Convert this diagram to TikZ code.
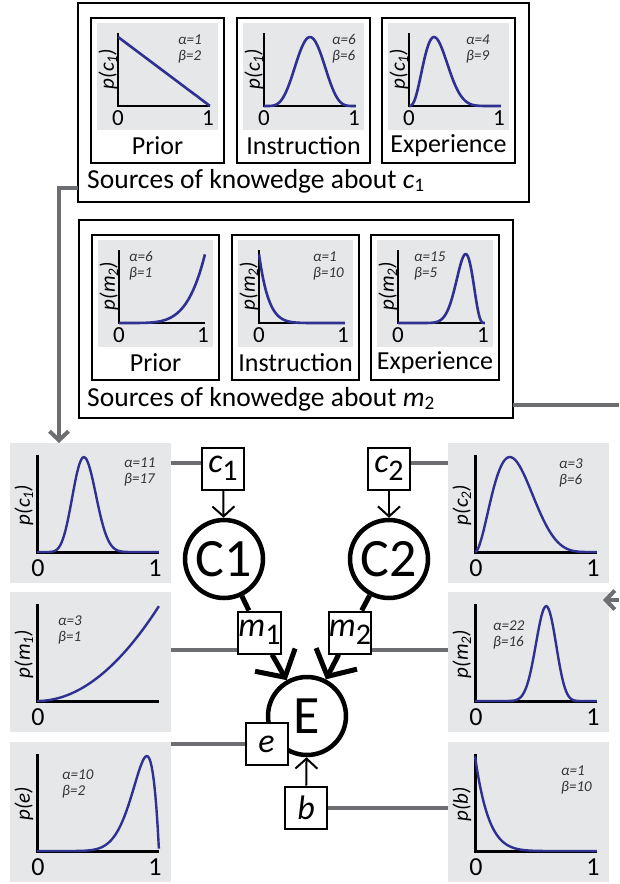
\documentclass[tikz,border=0pt]{standalone}
\usepackage{fontspec}
\setmainfont{Carlito}
\usetikzlibrary{arrows.meta}
\definecolor{panelgray}{HTML}{E6E7E8}
\definecolor{curveblue}{HTML}{2E3192}
\definecolor{feedgray}{HTML}{6D6E71}
\newcommand{\setfs}[1]{\fontsize{#1}{#1}\selectfont}

\tikzset{
  plotbg/.style={fill=panelgray, inner sep=0pt, outer sep=0pt},
  framebox/.style={draw, line width=2pt, inner sep=0pt, outer sep=0pt},
  panelbox/.style={draw, fill=white, line width=2.5pt},
  plotaxis/.style={line width=2.5pt},
  betaline/.style={draw=curveblue},
  ticklab/.style={inner sep=0pt},
  ylab/.style={inner sep=0pt, font=\itshape\setfs{21}},
  ablab/.style={inner sep=0pt, anchor=west, align=left, text=black!80, font=\itshape\fontsize{15}{16}\selectfont},
  titlelab/.style={inner sep=0pt, font=\setfs{26}},
  caplab/.style={inner sep=0pt, anchor=base west, font=\setfs{27.5}},
  obsbox/.style={draw, fill=white, line width=2pt, minimum size=42pt, inner sep=0pt, font=\setfs{34}},
  latent/.style={circle, draw, line width=4.5pt, minimum size=78pt, inner sep=0pt, font=\setfs{54}},
  feed/.style={draw=feedgray, line width=4pt},
  feedarrow/.style={feed, -{Straight Barb[length=9pt, width=19pt]}},
  thinarrow/.style={line width=2pt, -{Straight Barb[length=10pt, width=22pt]}},
  thickline/.style={line width=5pt},
  thickarrow/.style={line width=5pt, -{Straight Barb[length=20pt, width=46pt]}},
}

% beta density, scaled to its peak: alpha, beta, length, height, line width
\newcommand{\betacurve}[5]{%
  \pgfmathsetmacro\bmode{min(max((#1-1)/(#1+#2-2),0.0001),0.9999)}%
  \draw[betaline, line width=#5] plot[domain=0.0005:0.9995, samples=100, variable=\t]
    ({(#3)*\t}, {-(#4)*exp(max(-20,(#1-1)*ln(\t/\bmode)+(#2-1)*ln((1-\t)/(1-\bmode))))});}

% framed source panel: name, x, y, width, alpha, beta, y label, title, label dx
\newcommand{\smallplot}[9]{%
  \draw[panelbox] (#2,#3) rectangle ++(#4,145);
  \fill[panelgray] (#2+6,#3+5) rectangle (#2+#4-6,#3+112);
  \begin{scope}[shift={(#2+27,#3+88)}]
    \draw[plotaxis] (0,-73) -- (0,0) -- (#4-41,0);
    \betacurve{#5}{#6}{#4-41}{69}{2.6pt}
    \node[ticklab, font=\setfs{23}] (#1-zero) at (0,12) {0};
    \node[ticklab, font=\setfs{23}] (#1-one) at (#4-43,12) {1};
    \node[ylab, rotate=90] (#1-ylab) at (-10,-37) {#7};
    \node[ablab] (#1-ab) at (#9,-57) {α=#5\\β=#6};
    \node[titlelab] (#1-title) at (#4/2-27,40) {#8};
  \end{scope}}

% posterior panel: name, x, y, alpha, beta, y label, label dx, label dy, right tick
\newcommand{\bigplot}[9]{%
  \node[plotbg, minimum width=161pt, minimum height=140pt, anchor=north west] (#1) at (#2,#3) {};
  \begin{scope}[shift={(#2+27,#3+109)}]
    \draw[plotaxis, line width=3pt] (0,-97) -- (0,0) -- (122,0);
    \betacurve{#4}{#5}{122}{95}{2.4pt}
    \node[ticklab, font=\setfs{26}] (#1-zero) at (1,16) {0};
    \if\relax\detokenize{#9}\relax\else
      \node[ticklab, font=\setfs{26}] (#1-one) at (118,16) {#9};\fi
    \node[ylab, rotate=90] (#1-ylab) at (-13,-47) {#6};
    \node[ablab] (#1-ab) at (#7,#8) {α=#4\\β=#5};
  \end{scope}}

\begin{document}
\begin{tikzpicture}[x=1pt, y=-1pt]
  \useasboundingbox (0,0) rectangle (619,884);

  % sources of knowledge about c1
  \node[framebox, minimum width=451pt, minimum height=199pt] (cbox) at (303.5,102.5) {};
  \smallplot{cprior}{91}{18}{133}{1}{2}{p(c\textsubscript{1})}{Prior}{60}
  \smallplot{cinstr}{237}{18}{133}{6}{6}{p(c\textsubscript{1})}{Instruction}{68}
  \smallplot{cexper}{382}{18}{133}{4}{9}{p(c\textsubscript{1})}{Experience}{57}
  \node[caplab] (ccap) at (87,188) {Sources of knowedge about \textit{c}\textsubscript{1}};

  % sources of knowledge about m2
  \node[framebox, minimum width=434pt, minimum height=198pt] (mbox) at (296,319) {};
  \smallplot{mprior}{92}{235}{127}{6}{1}{p(m\textsubscript{2})}{Prior}{10}
  \smallplot{minstr}{232}{235}{127}{1}{10}{p(m\textsubscript{2})}{Instruction}{54}
  \smallplot{mexper}{371}{235}{128}{15}{5}{p(m\textsubscript{2})}{Experience}{16}
  \node[caplab] (mcap) at (87,406) {Sources of knowedge about \textit{m}\textsubscript{2}};

  % posteriors
  \bigplot{pc1}{10}{443}{11}{17}{p(c\textsubscript{1})}{87}{-80}{1}
  \bigplot{pm1}{10}{592}{3}{1}{p(m\textsubscript{1})}{21}{-71}{}
  \bigplot{pe}{10}{742}{10}{2}{p(e)}{25}{-67}{1}
  \bigplot{pc2}{448}{443}{3}{6}{p(c\textsubscript{2})}{84}{-79}{1}
  \bigplot{pm2}{448}{592}{22}{16}{p(m\textsubscript{2})}{18}{-66}{1}
  \bigplot{pb}{448}{742}{1}{10}{p(b)}{86}{-71}{1}

  % feeds from the source boxes
  \draw[feedarrow] ([yshift=14pt]cbox.south west) -| ([xshift=49pt]pc1.north west);
  \coordinate (mout) at (619,405);
  \coordinate (m2in) at (619,600);
  \coordinate (m2tip) at (603,600);
  \draw[feed] ([yshift=13pt]mbox.south east) -- (mout);
  \draw[feedarrow] (m2in) -- (m2tip);

  % model
  \node[latent] (C1) at (224,559) {C1};
  \node[latent] (C2) at (389,559) {C2};
  \node[latent] (E) at (307,716) {E};
  \node[obsbox] (c1box) at (223,468.5) {\textit{c}\raisebox{-8pt}{\setfs{30}1}};
  \node[obsbox] (c2box) at (389,468.5) {\textit{c}\raisebox{-8pt}{\setfs{30}2}};
  \node[obsbox] (m1box) at (259.5,632.5) {\textit{m}\raisebox{-8pt}{\setfs{30}1}};
  \node[obsbox] (m2box) at (350,632.5) {\textit{m}\raisebox{-8pt}{\setfs{30}2}};
  \node[obsbox] (ebox) at (266.5,744) {\textit{e}};
  \node[obsbox] (bbox) at (306,807.5) {\textit{b}};

  \draw[thinarrow] (c1box) -- (C1);
  \draw[thinarrow] (c2box) -- (C2);
  \draw[thickline] (C1) -- (m1box);
  \draw[thickline] (C2) -- (m2box);
  \draw[thickarrow] (m1box) -- (E);
  \draw[thickarrow] (m2box) -- (E);
  \draw[thinarrow] (bbox) -- (E);

  % feeds from the posteriors
  \coordinate (c1feed) at ([yshift=6pt]c1box.west);
  \coordinate (c2feed) at ([yshift=6pt]c2box.east);
  \coordinate (m1feed) at ([yshift=5pt]m1box.south west);
  \coordinate (m2feed) at ([yshift=5pt]m2box.south east);
  \draw[feed] (c1feed) -- (c1feed -| pc1.east);
  \draw[feed] (c2feed) -- (c2feed -| pc2.west);
  \draw[feed] (m1feed) -- (m1feed -| pm1.east);
  \draw[feed] (m2feed) -- (m2feed -| pm2.west);
  \draw[feed] (ebox.west) -- (ebox.west -| pe.east);
  \draw[feed] (bbox.east) -- (bbox.east -| pb.west);
\end{tikzpicture}
\end{document}
